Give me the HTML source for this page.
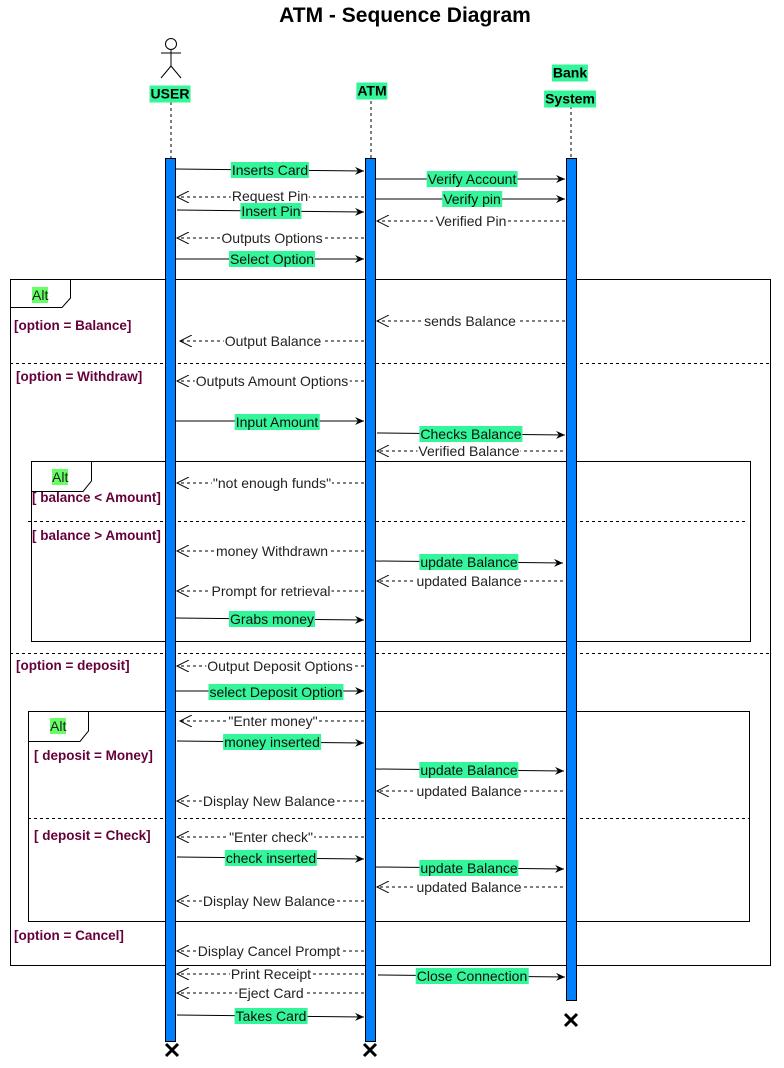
<!DOCTYPE html>
<html><head><meta charset="utf-8"><style>
html,body{margin:0;padding:0;background:#fff;}
#c{position:relative;width:784px;height:1068px;overflow:hidden;font-family:"Liberation Sans",Arial,sans-serif;}
svg{position:absolute;left:0;top:0;}
.l{position:absolute;transform:translate(-50%,-50%);font-size:14px;line-height:16px;white-space:nowrap;color:#222;background:#fff;padding:0 1px;}
.g{background:#33f599;color:#111;}
.gd{position:absolute;font-size:13.5px;font-weight:bold;color:#66003a;white-space:nowrap;}
.alt{position:absolute;font-size:14px;background:#66ff66;color:#222;line-height:16px;}
.hd{position:absolute;transform:translate(-50%,-50%);font-size:14px;font-weight:bold;background:#33f599;color:#000;line-height:17px;padding:0 1px;}
</style></head><body><div id="c">
<svg width="784" height="1068" xmlns="http://www.w3.org/2000/svg">
<defs>
<marker id="s" markerWidth="10" markerHeight="10" refX="9" refY="5" orient="auto" markerUnits="userSpaceOnUse"><path d="M0,1 L9,5 L0,9 L3,5 Z" fill="#000"/></marker>
<marker id="o" markerWidth="14" markerHeight="12" refX="12" refY="6" orient="auto" markerUnits="userSpaceOnUse"><path d="M0,0 L12,6 L0,12" fill="none" stroke="#000" stroke-width="1" stroke-dasharray="none"/></marker>
</defs>
<g fill="none" stroke="#000" stroke-width="1">
<rect x="10.5" y="279.5" width="760" height="686"/>
<line x1="10" y1="363.5" x2="770" y2="363.5" stroke-dasharray="3,3"/>
<line x1="10" y1="653.5" x2="770" y2="653.5" stroke-dasharray="3,3"/>
<path d="M10.5,307.5 H62 L70.5,298 V279.5"/>
<rect x="31.5" y="461.5" width="719" height="180"/>
<line x1="28" y1="521.5" x2="746" y2="521.5" stroke-dasharray="3,3"/>
<path d="M31.5,491.5 H83 L91.5,481 V461.5"/>
<rect x="28.5" y="711.5" width="721" height="210"/>
<line x1="28" y1="818.5" x2="749" y2="818.5" stroke-dasharray="3,3"/>
<path d="M28.5,741.5 H80 L88.5,731 V711.5"/>
</g>
<g fill="none" stroke="#000" stroke-width="1">
<circle cx="171" cy="44" r="5.5"/>
<line x1="171" y1="50" x2="171" y2="66"/>
<line x1="161" y1="53" x2="181" y2="53"/>
<line x1="171" y1="66" x2="161" y2="78"/>
<line x1="171" y1="66" x2="181" y2="78"/>
</g>
<g stroke="#000" stroke-dasharray="3,3">
<line x1="171" y1="102" x2="171" y2="158"/>
<line x1="371" y1="101" x2="371" y2="158"/>
<line x1="571" y1="106" x2="571" y2="158"/>
</g>
<g fill="#007fff" stroke="#000" stroke-width="1">
<rect x="165.5" y="158.5" width="10" height="883"/>
<rect x="365.5" y="158.5" width="10" height="883"/>
<rect x="566.5" y="158.5" width="10" height="842"/>
</g>
<g stroke="#000" stroke-width="3">
<path d="M166,1044 L178,1056 M178,1044 L166,1056"/>
<path d="M364,1044 L376,1056 M376,1044 L364,1056"/>
<path d="M565,1014 L577,1026 M577,1014 L565,1026"/>
</g>
<g stroke="#000" stroke-width="1" marker-end="url(#s)">
<line x1="176" y1="169" x2="364" y2="171"/>
<line x1="376" y1="179" x2="565" y2="179"/>
<line x1="376" y1="199" x2="565" y2="199"/>
<line x1="177" y1="210" x2="364" y2="212"/>
<line x1="176" y1="259" x2="364" y2="259"/>
<line x1="176" y1="421" x2="364" y2="421"/>
<line x1="377" y1="433" x2="565" y2="435"/>
<line x1="376" y1="561" x2="563" y2="563"/>
<line x1="176" y1="618" x2="364" y2="620"/>
<line x1="176" y1="691" x2="364" y2="691"/>
<line x1="177" y1="741" x2="364" y2="743"/>
<line x1="376" y1="769" x2="564" y2="771"/>
<line x1="177" y1="857" x2="364" y2="859"/>
<line x1="376" y1="867" x2="564" y2="869"/>
<line x1="378" y1="975" x2="565" y2="977"/>
<line x1="177" y1="1015" x2="364" y2="1017"/>
</g>
<g stroke="#000" stroke-width="1" stroke-dasharray="3,3" marker-end="url(#o)">
<line x1="364" y1="197" x2="177" y2="197"/>
<line x1="565" y1="221" x2="377" y2="221"/>
<line x1="364" y1="238" x2="177" y2="238"/>
<line x1="565" y1="321" x2="377" y2="321"/>
<line x1="364" y1="341" x2="180" y2="341"/>
<line x1="364" y1="381" x2="177" y2="381"/>
<line x1="563" y1="451" x2="377" y2="451"/>
<line x1="364" y1="483" x2="177" y2="483"/>
<line x1="364" y1="551" x2="177" y2="551"/>
<line x1="563" y1="581" x2="377" y2="581"/>
<line x1="364" y1="591" x2="177" y2="591"/>
<line x1="364" y1="666" x2="177" y2="666"/>
<line x1="364" y1="721" x2="180" y2="721"/>
<line x1="563" y1="791" x2="377" y2="791"/>
<line x1="364" y1="801" x2="177" y2="801"/>
<line x1="364" y1="837" x2="177" y2="837"/>
<line x1="563" y1="887" x2="377" y2="887"/>
<line x1="364" y1="901" x2="177" y2="901"/>
<line x1="364" y1="951" x2="177" y2="951"/>
<line x1="364" y1="974" x2="177" y2="974"/>
<line x1="364" y1="993" x2="177" y2="993"/>
</g>
</svg>
<div style="position:absolute;left:405px;top:16px;transform:translate(-50%,-50%);font-size:21px;font-weight:bold;color:#000;background:#fff;white-space:nowrap;">ATM - Sequence Diagram</div>
<div class="hd" style="left:170px;top:94px;">USER</div>
<div class="hd" style="left:372px;top:91px;">ATM</div>
<div class="hd" style="left:570px;top:73px;">Bank</div>
<div class="hd" style="left:570px;top:99px;">System</div>

<div class="alt" style="left:32px;top:287px;">Alt</div>
<div class="alt" style="left:52px;top:469px;">Alt</div>
<div class="alt" style="left:50px;top:718px;">Alt</div>

<div class="gd" style="left:14px;top:318px;">[option = Balance]</div>
<div class="gd" style="left:16px;top:369px;">[option = Withdraw]</div>
<div class="gd" style="left:32px;top:490px;">[ balance &lt; Amount]</div>
<div class="gd" style="left:32px;top:528px;">[ balance &gt; Amount]</div>
<div class="gd" style="left:16px;top:658px;">[option = deposit]</div>
<div class="gd" style="left:34px;top:748px;">[ deposit = Money]</div>
<div class="gd" style="left:34px;top:828px;">[ deposit = Check]</div>
<div class="gd" style="left:14px;top:928px;">[option = Cancel]</div>

<div class="l g" style="left:270px;top:170px;">Inserts Card</div>
<div class="l g" style="left:472px;top:179px;">Verify Account</div>
<div class="l" style="left:270px;top:196px;">Request Pin</div>
<div class="l g" style="left:472px;top:199px;">Verify pin</div>
<div class="l g" style="left:271px;top:211px;">Insert Pin</div>
<div class="l" style="left:471px;top:221px;">Verified Pin</div>
<div class="l" style="left:272px;top:238px;">Outputs Options</div>
<div class="l g" style="left:272px;top:259px;">Select Option</div>
<div class="l" style="left:470px;top:321px;">sends Balance</div>
<div class="l" style="left:273px;top:341px;">Output Balance</div>
<div class="l" style="left:272px;top:381px;">Outputs Amount Options</div>
<div class="l g" style="left:277px;top:422px;">Input Amount</div>
<div class="l g" style="left:471px;top:434px;">Checks Balance</div>
<div class="l" style="left:469px;top:451px;">Verified Balance</div>
<div class="l" style="left:272px;top:483px;">"not enough funds"</div>
<div class="l" style="left:272px;top:551px;">money Withdrawn</div>
<div class="l g" style="left:469px;top:562px;">update Balance</div>
<div class="l" style="left:469px;top:581px;">updated Balance</div>
<div class="l" style="left:271px;top:591px;">Prompt for retrieval</div>
<div class="l g" style="left:272px;top:619px;">Grabs money</div>
<div class="l" style="left:280px;top:666px;">Output Deposit Options</div>
<div class="l g" style="left:276px;top:692px;">select Deposit Option</div>
<div class="l" style="left:273px;top:721px;">"Enter money"</div>
<div class="l g" style="left:272px;top:742px;">money inserted</div>
<div class="l g" style="left:469px;top:770px;">update Balance</div>
<div class="l" style="left:469px;top:791px;">updated Balance</div>
<div class="l" style="left:269px;top:801px;">Display New Balance</div>
<div class="l" style="left:271px;top:837px;">"Enter check"</div>
<div class="l g" style="left:271px;top:858px;">check inserted</div>
<div class="l g" style="left:469px;top:868px;">update Balance</div>
<div class="l" style="left:469px;top:887px;">updated Balance</div>
<div class="l" style="left:269px;top:901px;">Display New Balance</div>
<div class="l" style="left:269px;top:951px;">Display Cancel Prompt</div>
<div class="l" style="left:271px;top:974px;">Print Receipt</div>
<div class="l g" style="left:472px;top:976px;">Close Connection</div>
<div class="l" style="left:271px;top:993px;">Eject Card</div>
<div class="l g" style="left:271px;top:1016px;">Takes Card</div>
</div></body></html>
